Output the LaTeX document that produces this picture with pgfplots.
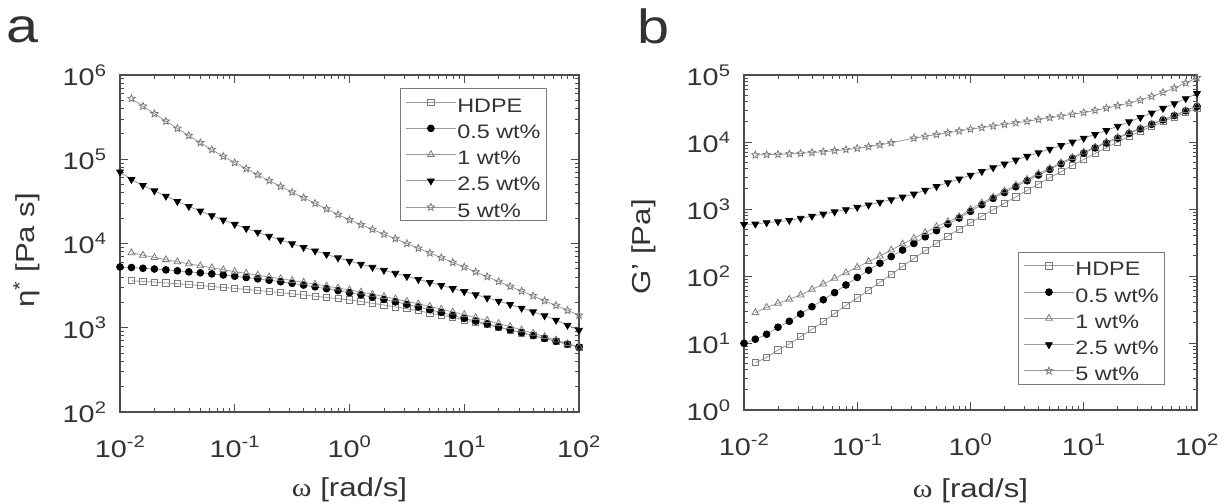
\documentclass[border=0pt]{standalone}
\usepackage{fontspec}
\setmainfont{Liberation Sans}[FakeStretch=1.2]
\newfontfamily\greekserif{Liberation Serif}[FakeStretch=1.15]
\usepackage{pgfplots}
\pgfplotsset{compat=1.18}
\usepackage{pgfplotstable}
\definecolor{txt}{HTML}{333333}
\definecolor{axc}{HTML}{4D4D4D}
\definecolor{mk}{HTML}{7A7A7A}
\definecolor{ln}{HTML}{9A9A9A}

\pgfdeclareplotmark{ostar}{%
  \pgfpathmoveto{\pgfpointpolar{90}{\pgfplotmarksize}}%
  \pgfpathlineto{\pgfpointpolar{126}{0.45\pgfplotmarksize}}%
  \pgfpathlineto{\pgfpointpolar{162}{\pgfplotmarksize}}%
  \pgfpathlineto{\pgfpointpolar{198}{0.45\pgfplotmarksize}}%
  \pgfpathlineto{\pgfpointpolar{234}{\pgfplotmarksize}}%
  \pgfpathlineto{\pgfpointpolar{270}{0.45\pgfplotmarksize}}%
  \pgfpathlineto{\pgfpointpolar{306}{\pgfplotmarksize}}%
  \pgfpathlineto{\pgfpointpolar{342}{0.45\pgfplotmarksize}}%
  \pgfpathlineto{\pgfpointpolar{18}{\pgfplotmarksize}}%
  \pgfpathlineto{\pgfpointpolar{54}{0.45\pgfplotmarksize}}%
  \pgfpathclose
  \pgfusepathqstroke
}

% complex viscosity eta* [Pa s]
\pgfplotstableread{
w        hdpe   c05   c1    c25    c5
0.01     nan    5270  nan   70800  nan
0.012589 3610   5190  7760  57500  525000
0.015849 3550   5080  7260  49000  427000
0.019953 3480   4980  6820  42200  347000
0.025119 3400   4860  6430  36500  283000
0.031623 3330   4740  6070  31600  232000
0.039811 3250   4610  5740  27600  191000
0.050119 3170   4490  5430  24300  157000
0.063096 3090   4360  5150  21400  130000
0.079433 3010   4230  4890  19000  108000
0.1      2930   4090  4630  16900  91200
0.12589  2850   3950  4420  15100  77300
0.15849  2770   3810  4210  13600  65600
0.19953  2690   3660  4010  12200  55800
0.25119  2610   3520  3820  11000  47600
0.31623  2530   3370  3640  9930   40700
0.39811  2450   3210  3460  8990   34900
0.50119  2370   3060  3290  8170   30000
0.63096  2290   2910  3130  7430   25700
0.79433  2210   2760  2960  6760   22100
1        2140   2610  2810  6170   19100
1.2589   2050   2460  2650  5680   16700
1.5849   1950   2310  2500  5220   14700
1.9953   1860   2170  2350  4810   12900
2.5119   1770   2030  2200  4430   11400
3.1623   1680   1890  2060  4070   10000
3.9811   1590   1760  1920  3750   8790
5.0119   1500   1640  1790  3450   7730
6.3096   1410   1520  1660  3180   6790
7.9433   1330   1400  1540  2920   5970
10       1240   1290  1430  2690   5250
12.589   1160   1200  1320  2470   4600
15.849   1090   1110  1220  2260   4040
19.953   1010   1020  1120  2070   3540
25.119   940    946   1030  1890   3100
31.623   871    875   942   1710   2720
39.811   805    809   861   1550   2390
50.119   745    748   785   1390   2090
63.096   689    692   714   1230   1840
79.433   637    640   649   1070   1610
100      589    592   589   933    1410
}\tabA

% storage modulus G' [Pa]
\pgfplotstableread{
w        hdpe  c05   c1    c25    c5
0.01     nan   9.89  nan   589    nan
0.012589 5.08  11.4  28.4  597    6400
0.015849 6.11  13.5  34.1  625    6460
0.019953 7.87  17.2  39.1  647    6530
0.025119 9.66  21.1  44.9  676    6640
0.031623 12.4  27.1  52.0  728    6760
0.039811 16.0  34.8  63.2  782    6950
0.050119 20.8  44.2  76.0  841    7160
0.063096 27.7  56.5  92.3  908    7410
0.079433 36.3  73.5  112   979    7710
0.1      47.0  95.1  135   1060   8040
0.12589  61.8  122   164   1150   8510
0.15849  80.4  155   199   1260   9080
0.19953  106   195   244   1380   9720
0.25119  139   244   301   1510   nan
0.31623  183   306   365   1670   11400
0.39811  239   385   444   1910   12100
0.50119  308   476   545   2170   12900
0.63096  395   596   647   2470   13700
0.79433  498   733   769   2810   14600
1        625   923   989   3200   15500
1.2589   783   1160  1230  3640   16400
1.5849   973   1440  1510  4140   17300
1.9953   1220  1760  1860  4710   18300
2.5119   1520  2150  2280  5370   19300
3.1623   1890  2640  2770  6110   20400
3.9811   2360  3210  3370  6920   21700
5.0119   2940  3890  4050  7820   23000
6.3096   3610  4730  4900  8850   24400
7.9433   4490  5690  5890  10000  25900
10       5510  6840  7080  11400  27500
12.589   6760  8170  8410  13000  29600
15.849   8220  9660  10000 14900  32100
19.953   10000 11400 11700 17200  34800
25.119   12100 13400 13800 20000  38000
31.623   14500 15700 16000 23200  42200
39.811   17200 18400 18600 27100  47900
50.119   20200 21400 21600 31800  55000
63.096   23600 24800 25100 37400  63800
79.433   27400 29200 29500 44400  75900
100      31600 33900 34700 53100  91200
}\tabB

\tikzset{
  sH/.style={ln, line width=0.8pt, mark=square, mark size=3.1pt, mark options={mk, line width=0.8pt, solid}},
  sA/.style={ln, line width=0.8pt, mark=*, mark size=3.4pt, mark options={black, fill=black, solid}},
  sB/.style={ln, line width=0.8pt, mark=triangle, mark size=3.9pt, mark options={mk, line width=0.8pt, solid}},
  sC/.style={ln, line width=0.8pt, mark=triangle*, mark size=3.9pt, mark options={black, fill=black, rotate=180, solid}},
  sD/.style={ln, line width=0.8pt, mark=ostar, mark size=3.8pt, mark options={mk, line width=0.8pt, solid}},
}

\pgfplotsset{
  every axis/.append style={
    scale only axis,
    axis line style={axc, line width=1.2pt},
    every tick/.style={axc, line width=0.9pt},
    major tick length=8pt, minor tick length=4pt,
    tick label style={font=\fontsize{24}{28}\selectfont, text=txt},
    label style={font=\fontsize{26}{30}\selectfont, text=txt},
    xticklabel style={anchor=base, yshift=-45pt},
    yticklabel style={xshift=-10pt},
    legend cell align=left,
    legend style={draw=mk, line width=1pt, font=\fontsize{19.5}{22}\selectfont, text=txt,
      anchor=north west, inner xsep=5pt, inner ysep=1.5pt, row sep=2.25pt,
      nodes={inner sep=1pt, text height=21pt, text depth=1pt}},
  },
}

\begin{document}
\begin{tikzpicture}
\path[use as bounding box] (0pt,0pt) rectangle (1228pt,-503pt);
\node[anchor=base west, font=\fontsize{48}{48}\selectfont, text=txt, inner sep=0pt] at (6pt,-43pt) {a};
\node[anchor=base west, font=\fontsize{48}{48}\selectfont, text=txt, inner sep=0pt] at (637pt,-44pt) {b};

\begin{loglogaxis}[
  at={(120pt,-412pt)}, anchor=south west,
  width=459pt, height=337pt,
  xmin=0.01, xmax=100, ymin=100, ymax=1e6,
  xtick={0.01,0.1,1,10,100},
  xticklabels={10\textsuperscript{-2},10\textsuperscript{-1},10\textsuperscript{0},10\textsuperscript{1},10\textsuperscript{2}},
  minor xtick={0.02,0.03,0.04,0.05,0.06,0.07,0.08,0.09,0.2,0.3,0.4,0.5,0.6,0.7,0.8,0.9,2,3,4,5,6,7,8,9,20,30,40,50,60,70,80,90},
  ytick={100,1000,10000,100000,1000000},
  yticklabels={10\textsuperscript{2},10\textsuperscript{3},10\textsuperscript{4},10\textsuperscript{5},10\textsuperscript{6}},
  minor ytick={200,300,400,500,600,700,800,900,2000,3000,4000,5000,6000,7000,8000,9000,20000,30000,40000,50000,60000,70000,80000,90000,200000,300000,400000,500000,600000,700000,800000,900000},
  xlabel={{\greekserif ω} [rad/s]},
  ylabel={η\textsuperscript{*} [Pa s]},
  xlabel style={at={(axis description cs:0.5,-0.252)}, anchor=base},
  ylabel style={at={(axis description cs:-0.203,0.48)}, anchor=center},
  legend style={at={(axis description cs:0.610,0.961)}},
  legend image code/.code={\draw[mark repeat=2,mark phase=2,#1] plot coordinates {(0pt,0pt) (25pt,0pt) (50pt,0pt)};},
]
\addplot[sH] table[x=w, y=hdpe] {\tabA};
\addlegendentry{HDPE}
\addplot[sA] table[x=w, y=c05] {\tabA};
\addlegendentry{0.5 wt\%}
\addplot[sB] table[x=w, y=c1] {\tabA};
\addlegendentry{1 wt\%}
\addplot[sC] table[x=w, y=c25] {\tabA};
\addlegendentry{2.5 wt\%}
\addplot[sD] table[x=w, y=c5] {\tabA};
\addlegendentry{5 wt\%}
\end{loglogaxis}

\begin{loglogaxis}[
  at={(744pt,-410pt)}, anchor=south west,
  width=453pt, height=335pt,
  xmin=0.01, xmax=100, ymin=1, ymax=1e5,
  xtick={0.01,0.1,1,10,100},
  xticklabels={10\textsuperscript{-2},10\textsuperscript{-1},10\textsuperscript{0},10\textsuperscript{1},10\textsuperscript{2}},
  minor xtick={0.02,0.03,0.04,0.05,0.06,0.07,0.08,0.09,0.2,0.3,0.4,0.5,0.6,0.7,0.8,0.9,2,3,4,5,6,7,8,9,20,30,40,50,60,70,80,90},
  ytick={1,10,100,1000,10000,100000},
  yticklabels={10\textsuperscript{0},10\textsuperscript{1},10\textsuperscript{2},10\textsuperscript{3},10\textsuperscript{4},10\textsuperscript{5}},
  minor ytick={2,3,4,5,6,7,8,9,20,30,40,50,60,70,80,90,200,300,400,500,600,700,800,900,2000,3000,4000,5000,6000,7000,8000,9000,20000,30000,40000,50000,60000,70000,80000,90000},
  xlabel={{\greekserif ω} [rad/s]},
  ylabel={G' [Pa]},
  xlabel style={at={(axis description cs:0.5,-0.26)}, anchor=base},
  ylabel style={at={(axis description cs:-0.221,0.487)}, anchor=center},
  legend style={at={(axis description cs:0.605,0.472)}},
  legend image code/.code={\draw[mark repeat=2,mark phase=2,#1] plot coordinates {(0pt,0pt) (25pt,0pt) (50pt,0pt)};},
]
\addplot[sH] table[x=w, y=hdpe] {\tabB};
\addlegendentry{HDPE}
\addplot[sA] table[x=w, y=c05] {\tabB};
\addlegendentry{0.5 wt\%}
\addplot[sB] table[x=w, y=c1] {\tabB};
\addlegendentry{1 wt\%}
\addplot[sC] table[x=w, y=c25] {\tabB};
\addlegendentry{2.5 wt\%}
\addplot[sD] table[x=w, y=c5] {\tabB};
\addlegendentry{5 wt\%}
\end{loglogaxis}
\end{tikzpicture}
\end{document}
